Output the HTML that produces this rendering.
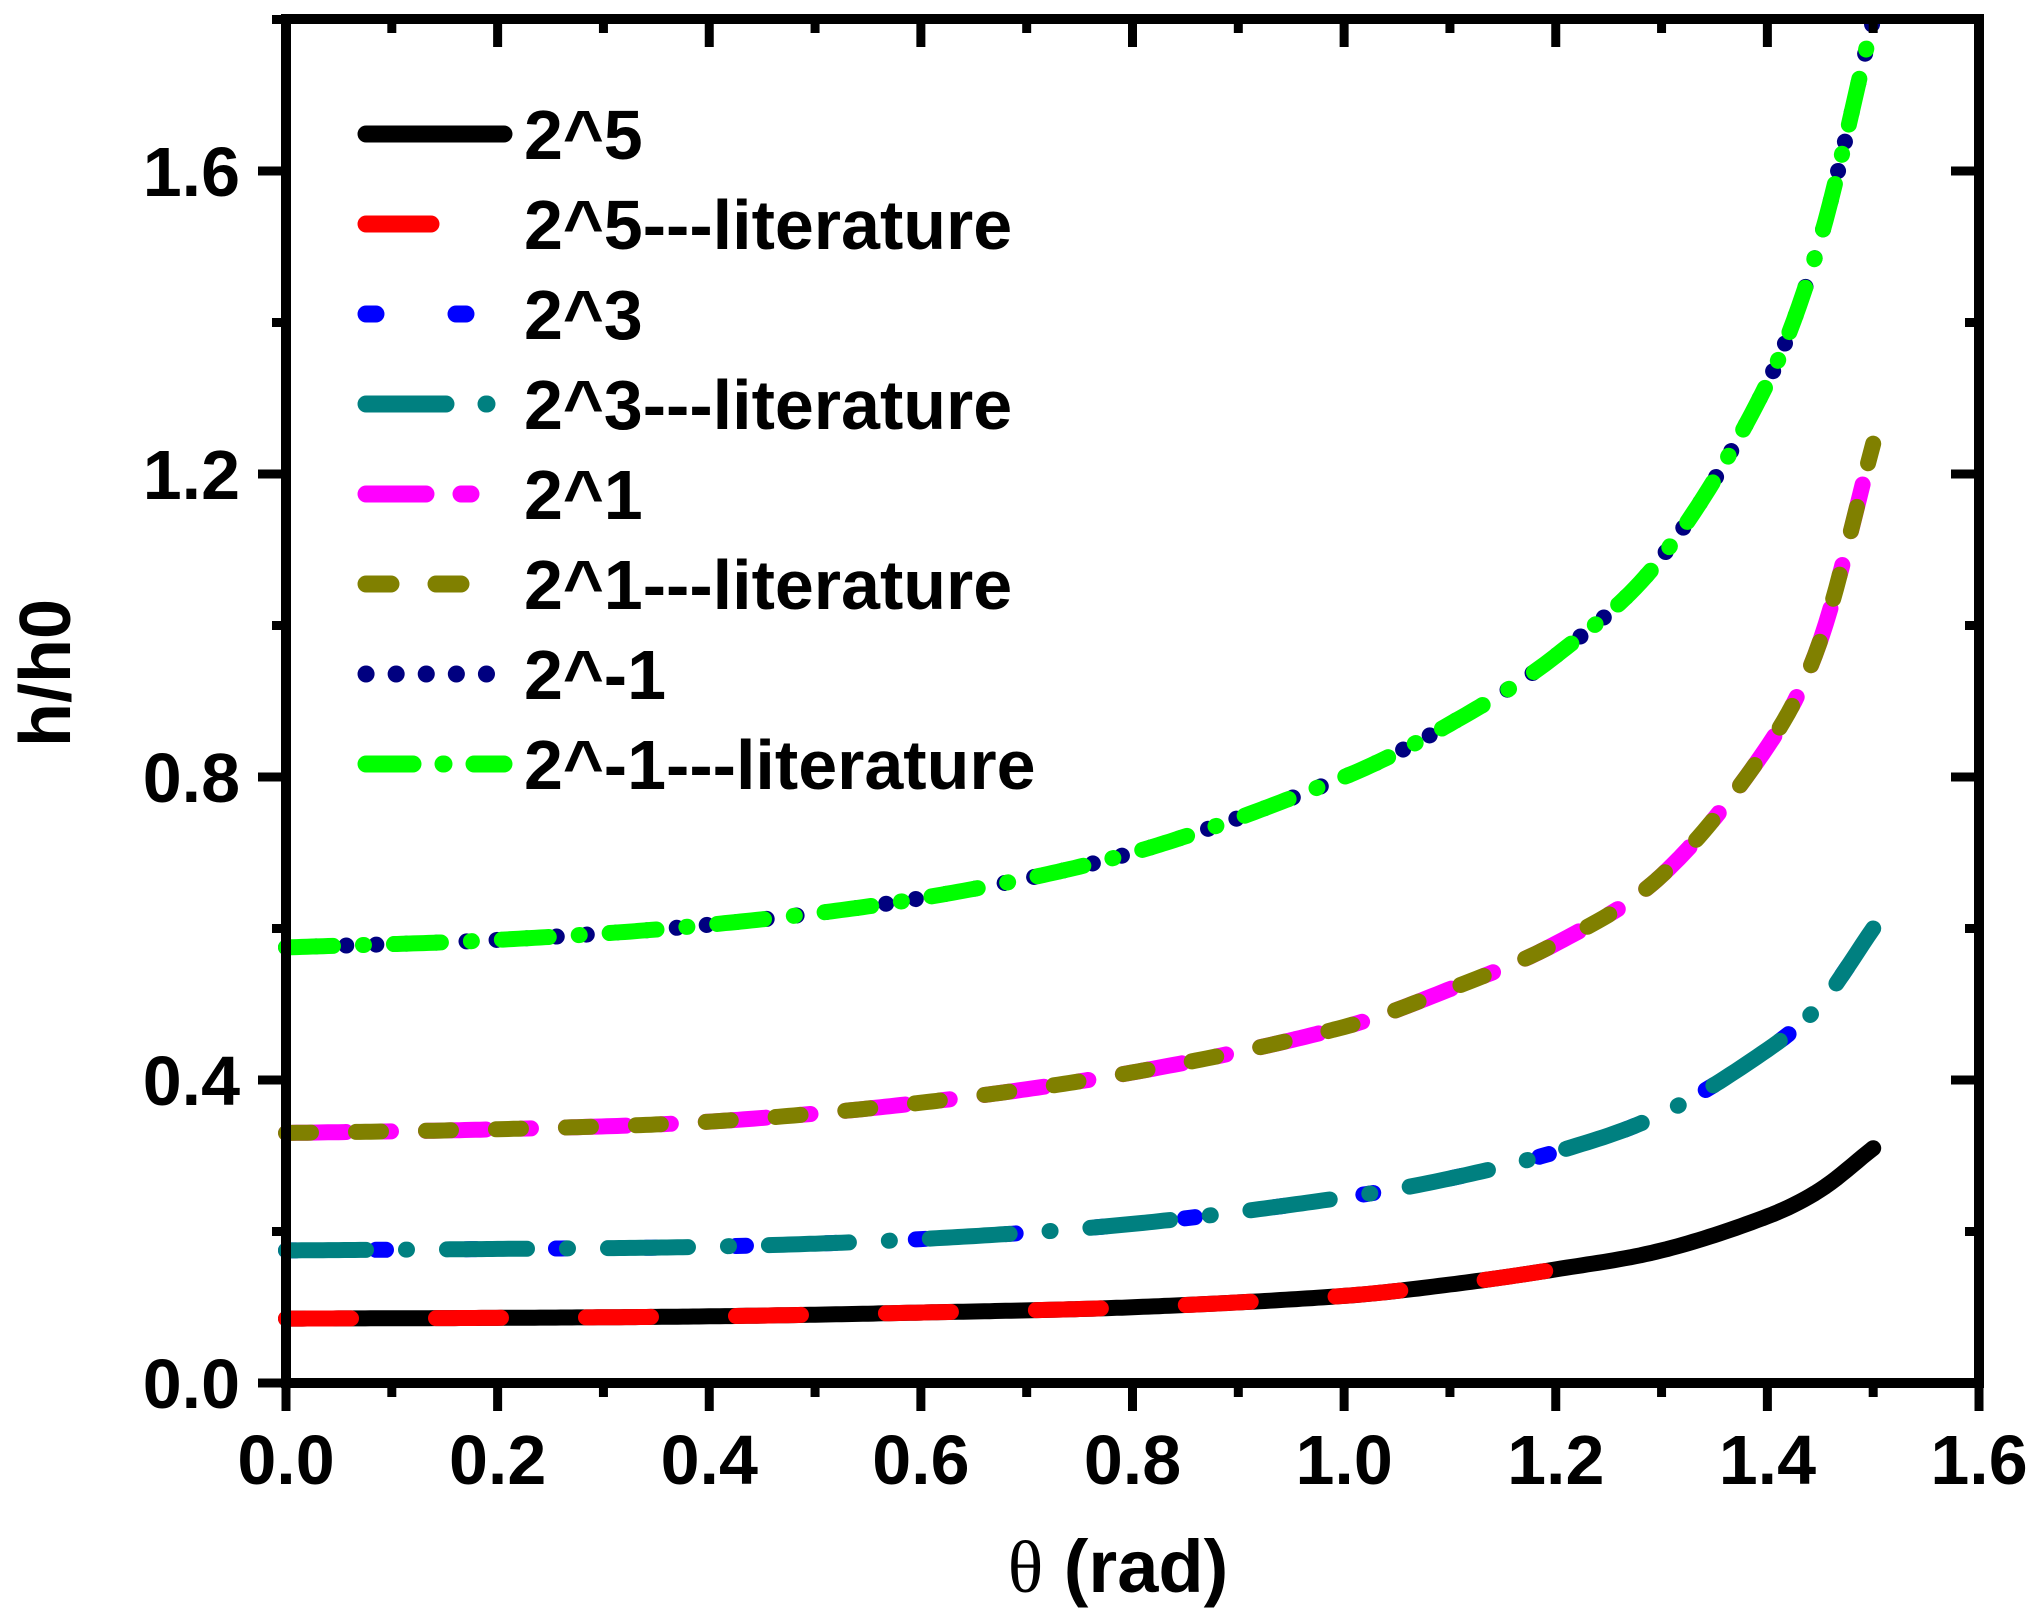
<!DOCTYPE html>
<html><head><meta charset="utf-8"><style>
html,body{margin:0;padding:0;background:#fff;}
svg{display:block;}
text{font-family:"Liberation Sans",sans-serif;font-weight:bold;fill:#000;}
</style></head><body>
<svg id="s" width="2039" height="1617" viewBox="0 0 2039 1617" xmlns="http://www.w3.org/2000/svg">
<g id="curves" fill="none" stroke-linecap="round" stroke-linejoin="round" stroke-width="16"></g>
<g stroke="#000" stroke-width="10" fill="none">
<rect x="286" y="19" width="1693" height="1364"/>
</g>
<g id="ticks" stroke="#000" stroke-width="9"></g>
<g id="labels" font-size="70"></g>
<text x="1118" y="1592" font-size="74" text-anchor="middle"><tspan font-family="Liberation Serif,serif" font-weight="normal">θ</tspan> (rad)</text>
<text transform="translate(70,673) rotate(-90)" font-size="72" text-anchor="middle">h/h0</text>
<g id="legend" font-size="70"></g>
</svg>
<script>
const NS="http://www.w3.org/2000/svg";
const X=t=>286+t*(1693/1.6), Y=v=>1383-v*757.5;
function el(p,tag,a,txt){const e=document.createElementNS(NS,tag);for(const k in a)e.setAttribute(k,a[k]);if(txt)e.textContent=txt;p.appendChild(e);return e;}
const T=document.getElementById('ticks'),L=document.getElementById('labels');
for(let i=0;i<=16;i++){const t=i*0.1,x=X(t),maj=i%2==0;
 el(T,'line',{x1:x,y1:1383,x2:x,y2:1383+(maj?28:14)});
 el(T,'line',{x1:x,y1:19,x2:x,y2:19+(maj?28:14)});
 if(maj)el(L,'text',{x:x,y:1484,'text-anchor':'middle'},t.toFixed(1));}
for(let i=0;i<=9;i++){const v=i*0.2,y=Y(v),maj=i%2==0;
 if(v>1.8)break;
 el(T,'line',{x1:286,y1:y,x2:286-(maj?28:14),y2:y});
 el(T,'line',{x1:1979,y1:y,x2:1979-(maj?28:14),y2:y});
 if(maj)el(L,'text',{x:240,y:y+25,'text-anchor':'end'},v.toFixed(1));}
const ts=[0,0.2,0.4,0.6,0.8,1.0,1.1,1.2,1.3,1.4,1.45,1.5];
const data={
g:[0.575,0.585,0.605,0.64,0.70,0.80,0.87,0.96,1.09,1.32,1.51,1.80],
m:[0.33,0.335,0.345,0.37,0.41,0.47,0.52,0.58,0.67,0.84,0.98,1.24],
c:[0.175,0.177,0.18,0.19,0.21,0.245,0.27,0.305,0.355,0.44,0.50,0.60],
k:[0.085,0.086,0.088,0.093,0.10,0.115,0.13,0.15,0.175,0.22,0.255,0.31]};
function path(arr,tmax){let pts=[];for(let i=0;i<ts.length;i++)pts.push([ts[i],arr[i]]);
 let d='';const N=300;
 for(let j=0;j<=N;j++){const t=tmax*j/N;let k=0;while(k<pts.length-2&&pts[k+1][0]<t)k++;
  const p0=pts[Math.max(k-1,0)],p1=pts[k],p2=pts[k+1],p3=pts[Math.min(k+2,pts.length-1)];
  const u=(t-p1[0])/(p2[0]-p1[0]);
  const m1=(p2[1]-p0[1])/(p2[0]-p0[0]||1)*(p2[0]-p1[0]),m2=(p3[1]-p1[1])/(p3[0]-p1[0]||1)*(p2[0]-p1[0]);
  const u2=u*u,u3=u2*u;
  const v=(2*u3-3*u2+1)*p1[1]+(u3-2*u2+u)*m1+(-2*u3+3*u2)*p2[1]+(u3-u2)*m2;
  d+=(j?'L':'M')+X(t).toFixed(1)+' '+Y(v).toFixed(1);}
 return d;}
const C=document.getElementById('curves');
const series=[
['k','#000',null,1.5],['k','#ff0000','65 85',1.19],
['c','#0000ff','10 80',1.5],['c','#008080','80 40 1 40',1.5],
['m','#ff00ff','60 35 10 35',1.49],['m','#808000','25 45',1.5],
['g','#000080','0.1 30',1.5],['g','#00ff00','47 30 1 30',1.5]];
for(const [k,col,da,tm] of series){const a={d:path(data[k],tm),stroke:col};if(da)a['stroke-dasharray']=da;el(C,'path',a);}
const Lg=document.getElementById('legend');
const names=['2^5','2^5---literature','2^3','2^3---literature','2^1','2^1---literature','2^-1','2^-1---literature'];
for(let i=0;i<8;i++){const y=134+90*i;const [k,col,da]=series[i];
 const a={x1:366,y1:y,x2:504,y2:y,stroke:col,'stroke-width':17,'stroke-linecap':'round'};if(da)a['stroke-dasharray']=da;
 el(Lg,'line',a);el(Lg,'text',{x:524,y:y+25},names[i]);}
</script>
</body></html>
